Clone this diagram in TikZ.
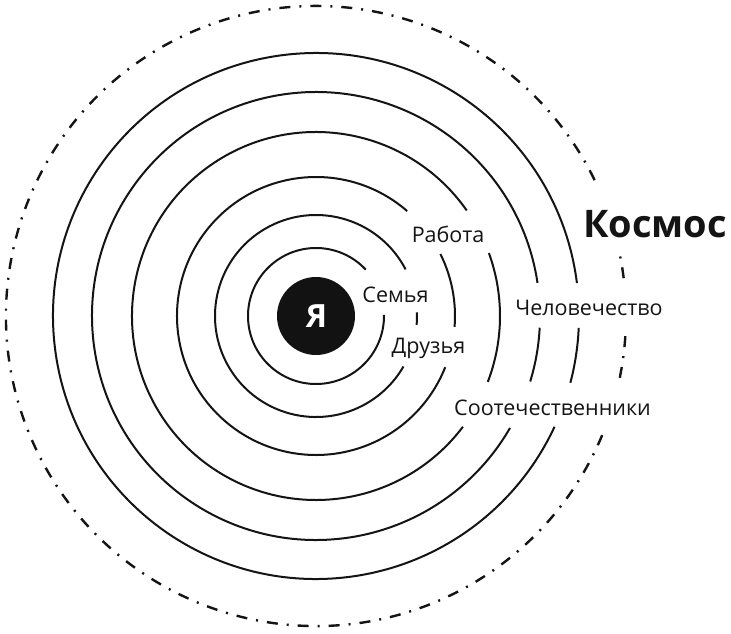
\documentclass[tikz,border=0pt]{standalone}
\usepackage{fontspec}
\setmainfont{Open Sans}
\newcommand\ringarc[4][ring]{\draw[#1] (#3:#2pt) arc[start angle=#3, end angle=#4, radius=#2pt];}
\begin{document}
\begin{tikzpicture}[x=1pt,y=1pt,
  ring/.style={line width=2pt, draw=black!92},
  outerring/.style={line width=2.4pt, draw=black!92, dash pattern=on 11pt off 9pt on 2pt off 9pt},
  lbl/.style={inner sep=0pt, anchor=base, font=\fontsize{21.5}{26}\selectfont, text=black!92},
  biglbl/.style={inner sep=0pt, anchor=base, font=\fontsize{38}{44}\selectfont\bfseries, text=black!92}]
\useasboundingbox (-316,-317) rectangle (415,316);
% rings
\ringarc{68}{43}{361}
\ringarc{101}{27.5}{330}
\ringarc{101}{-5}{2}
\ringarc{139}{49}{338.4}
\ringarc{139}{-4.5}{26.5}
\ringarc{184}{35}{323}
\ringarc{184}{-21}{20}
\ringarc{224}{8.5}{330}
\ringarc{224}{-17}{-3}
\ringarc{263}{7.2}{335.1}
\ringarc{263}{-14.7}{-2.6}
\ringarc[outerring]{310}{26}{339}
\ringarc[outerring]{310}{-11.5}{-2.2}
\ringarc[outerring]{310}{7}{11.3}
% centre
\fill[black!93] (0,0) circle[radius=39pt];
\node[inner sep=0pt, anchor=base, font=\fontsize{32}{36}\selectfont\bfseries, text=white] (ya) at (0.5,-11) {Я};
% labels
\node[lbl] (semya) at (79.5,14) {Семья};
\node[lbl] (druzya) at (112.5,-37) {Друзья};
\node[lbl] (rabota) at (132,74) {Работа};
\node[lbl] (chel) at (273,1) {Человечество};
\node[lbl] (soot) at (236.5,-99) {Соотечественники};
\node[biglbl] (kosmos) at (339,79) {Космос};
\end{tikzpicture}
\end{document}
